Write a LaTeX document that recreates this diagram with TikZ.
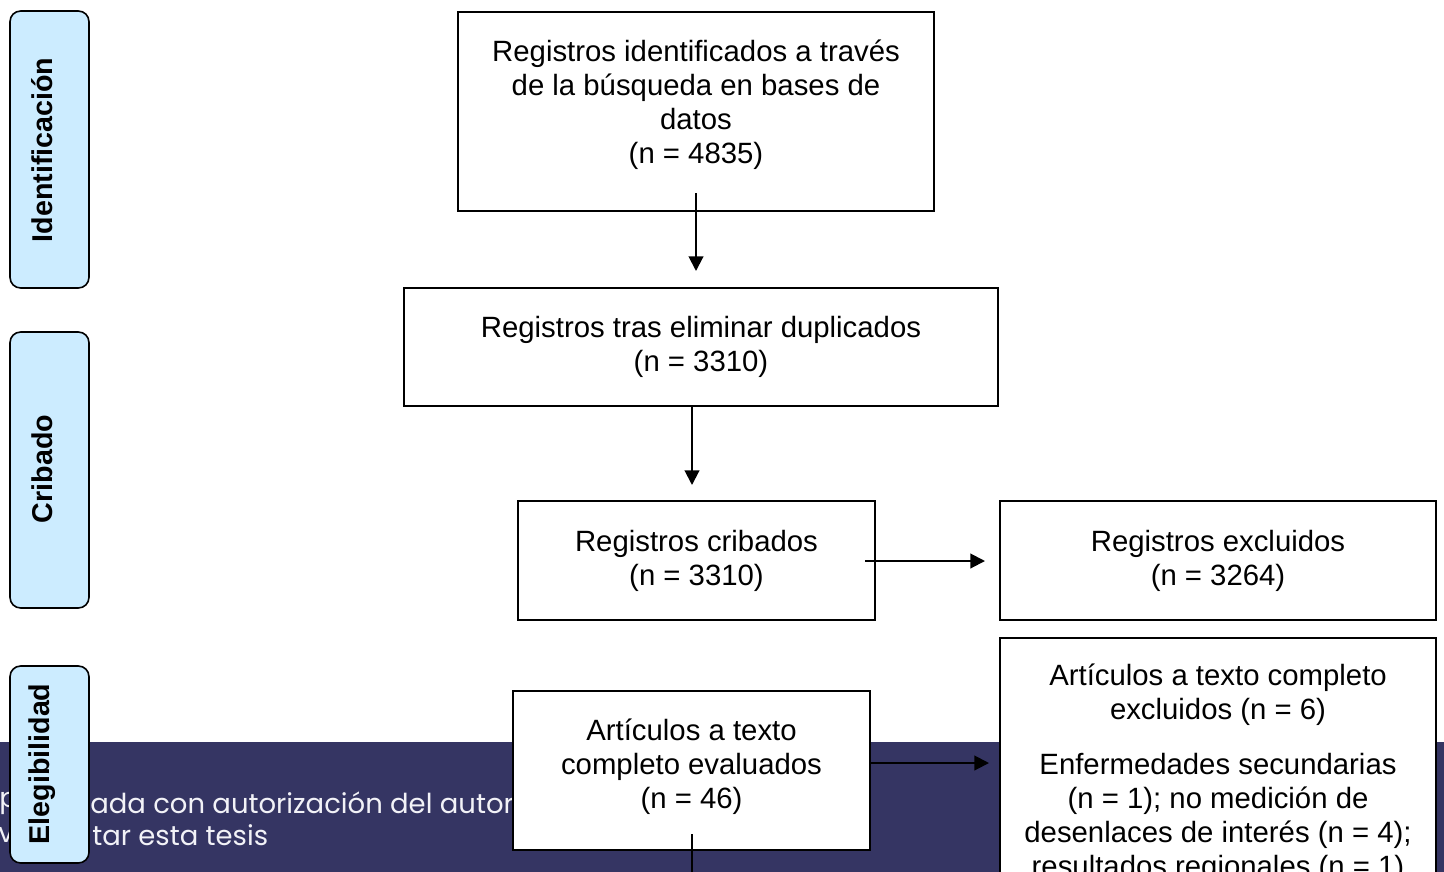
\documentclass[tikz,border=0pt]{standalone}
\usepackage{fontspec}
\setmainfont{Liberation Sans}
\newfontfamily\bannerfont{Poppins}
\usetikzlibrary{arrows.meta}
\definecolor{sideblue}{HTML}{CCECFF}
\definecolor{banner}{HTML}{353563}
\definecolor{bannertext}{HTML}{F2F2F7}
\tikzset{
  box/.style={draw, line width=1.2pt, fill=white, rectangle, inner sep=0pt},
  txt/.style={align=center, inner sep=0pt, font=\fontsize{22}{25.5}\selectfont},
  side/.style={draw, line width=1.2pt, rounded corners=8pt, fill=sideblue, inner sep=0pt, minimum width=59.25pt},
  sidetxt/.style={rotate=90, inner sep=0pt, font=\fontsize{21.5}{24}\selectfont\bfseries},
  arr/.style={line width=1.5pt, -{Triangle[length=11pt,width=11pt]}},
  plain/.style={line width=1.5pt},
  btxt/.style={anchor=west, inner sep=0pt, text=bannertext, font=\bannerfont\fontsize{20.6}{24}\selectfont}
}
\begin{document}
\begin{tikzpicture}[x=0.75pt,y=-0.75pt]
\useasboundingbox (0,0) rectangle (1444,871);
\clip (0,0) rectangle (1444,871);
% banner
\fill[banner] (0,742) rectangle (1444,900);
\node[btxt] (bt1) at (-1,803) {p};
\node[btxt] (bt2) at (90,803) {ada con autorización del autor};
\node[btxt] (bt3) at (-2,835) {v};
\node[btxt] (bt4) at (92,835) {tar esta tesis};
% side labels
\node[side, minimum height=207.75pt] (s1) at (49.5,149.5) {};
\node[sidetxt] (s1t) at (42,150) {Identificación};
\node[side, minimum height=207pt] (s2) at (49.5,470) {};
\node[sidetxt] (s2t) at (42,469) {Cribado};
\node[side, minimum height=147.75pt] (s3) at (49.5,764.5) {};
\node[sidetxt] (s3t) at (42,764) {Elegibilidad};
% boxes
\node[box, minimum width=357pt, minimum height=149.25pt] (b1) at (696,111.5) {};
\node[txt] (b1t) at (696,105) {Registros identificados a través\\de la búsqueda en bases de\\datos\\(n = 4835)};
\node[box, minimum width=445.5pt, minimum height=88.5pt] (b2) at (701,347) {};
\node[txt] (b2t) at (701,347) {Registros tras eliminar duplicados\\(n = 3310)};
\node[box, minimum width=267.75pt, minimum height=89.25pt] (b3) at (696.5,560.5) {};
\node[txt] (b3t) at (696.5,561) {Registros cribados\\(n = 3310)};
\node[box, minimum width=327pt, minimum height=89.25pt] (b4) at (1218,560.5) {};
\node[txt] (b4t) at (1218,561) {Registros excluidos\\(n = 3264)};
\node[box, minimum width=267.75pt, minimum height=119.25pt] (b5) at (691.5,770.5) {};
\node[txt] (b5t) at (691.5,767) {Artículos a texto\\completo evaluados\\(n = 46)};
\node[box, minimum width=327pt, minimum height=241.5pt] (b6) at (1218,799) {};
\node[txt, anchor=north] (b6t) at (1218,664) {Artículos a texto completo\\excluidos (n = 6)\\[15.75pt]Enfermedades secundarias\\(n = 1); no medición de\\desenlaces de interés (n = 4);\\resultados regionales (n = 1)};
% connectors
\coordinate (a1s) at (696,193);
\coordinate (a1e) at (696,271);
\coordinate (a2s) at (692,406);
\coordinate (a2e) at (692,485);
\coordinate (a3s) at (865,561);
\coordinate (a3e) at (985,561);
\coordinate (a4s) at (870,763);
\coordinate (a4e) at (989,763);
\coordinate (a5s) at (692,834);
\coordinate (a5e) at (692,900);
\draw[arr] (a1s) -- (a1e);
\draw[arr] (a2s) -- (a2e);
\draw[arr] (a3s) -- (a3e);
\draw[arr] (a4s) -- (a4e);
\draw[plain] (a5s) -- (a5e);
\end{tikzpicture}
\end{document}
